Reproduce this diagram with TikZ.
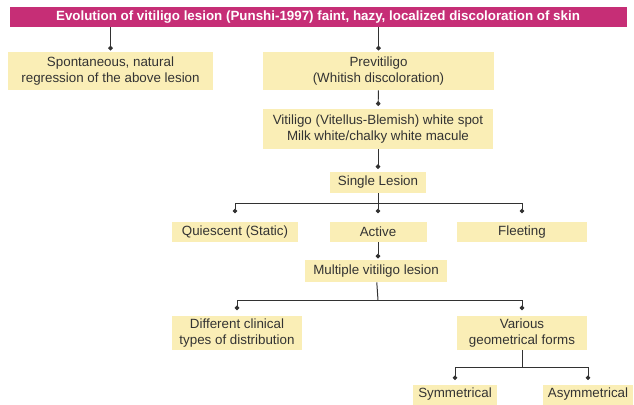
\documentclass[tikz,border=0pt]{standalone}
\usepackage{fontspec}
\setmainfont{Liberation Sans}
\usetikzlibrary{arrows.meta}
\definecolor{titlepink}{RGB}{198,46,118}
\definecolor{boxyellow}{RGB}{250,238,182}
\definecolor{linegray}{RGB}{50,50,50}
\begin{document}
\begin{tikzpicture}[x=0.025cm,y=-0.025cm,
        font=\fontsize{9.5}{11}\selectfont,
        box/.style={fill=boxyellow,text=black!80,align=center,inner sep=1pt},
        conn/.style={draw=linegray,line width=0.7pt,-{Circle[length=3.2pt]}},
        bar/.style={draw=linegray,line width=0.7pt}]
                \useasboundingbox (0,0) rectangle (634,404);
                \node[fill=titlepink,text=white,font=\fontsize{9.5}{11}\selectfont\bfseries,minimum width=617*0.025cm,minimum height=20*0.025cm,inner sep=0pt] (title) at (318,17) {Evolution of vitiligo lesion (Punshi-1997) faint, hazy, localized discoloration of skin};
                \node[box,minimum width=205*0.025cm,minimum height=38*0.025cm] (spont) at (110.5,71) {Spontaneous, natural\\regression of the above lesion};
                \node[box,minimum width=231*0.025cm,minimum height=38*0.025cm] (previt) at (378.5,71) {Previtiligo\\(Whitish discoloration)};
                \node[box,minimum width=230*0.025cm,minimum height=40*0.025cm] (vit) at (378,129) {Vitiligo (Vitellus-Blemish) white spot\\Milk white/chalky white macule};
                \node[box,minimum width=96*0.025cm,minimum height=21*0.025cm] (single) at (378,182.5) {Single Lesion};
                \node[box,minimum width=126*0.025cm,minimum height=20*0.025cm] (quies) at (235,232) {Quiescent (Static)};
                \node[box,minimum width=97*0.025cm,minimum height=20*0.025cm] (active) at (378,232) {Active};
                \node[box,minimum width=130*0.025cm,minimum height=20*0.025cm] (fleet) at (522,232) {Fleeting};
                \node[box,minimum width=142*0.025cm,minimum height=22*0.025cm] (multi) at (376,271) {Multiple vitiligo lesion};
                \node[box,minimum width=130*0.025cm,minimum height=34*0.025cm] (diff) at (237,333) {Different clinical\\types of distribution};
                \node[box,minimum width=130*0.025cm,minimum height=34*0.025cm] (geom) at (522,333) {Various\\geometrical forms};
                \node[box,minimum width=84*0.025cm,minimum height=20*0.025cm] (sym) at (455,394.5) {Symmetrical};
                \node[box,minimum width=90*0.025cm,minimum height=20*0.025cm] (asym) at (588,394.5) {Asymmetrical};

                \coordinate (j1) at (378,203);
                \coordinate (j2) at (378,300);
                \coordinate (j3) at (522,367);

                \draw[conn,shorten >=1pt] (title.south -| spont.north) -- (spont.north);
                \draw[conn,shorten >=1pt] (title.south -| previt.north) -- (previt.north);
                \draw[conn,shorten >=2pt] (previt) -- (vit);
                \draw[conn,shorten >=2pt] (vit) -- (single);
                \draw[bar] (single) -- (j1);
                \draw[conn,shorten >=6pt] (j1) -| (quies.north);
                \draw[conn,shorten >=6pt] (j1) -- (active.north);
                \draw[conn,shorten >=6pt] (j1) -| (fleet.north);
                \draw[conn,shorten >=1pt] (active) -- (active |- multi.north);
                \draw[bar] (multi) -- (j2);
                \draw[conn,shorten >=4pt] (j2) -| (diff.north);
                \draw[conn,shorten >=4pt] (j2) -| (geom.north);
                \draw[bar] (geom) -- (j3);
                \draw[conn,shorten >=3pt] (j3) -| (sym.north);
                \draw[conn,shorten >=3pt] (j3) -| (asym.north);
            \end{tikzpicture}
\end{document}
